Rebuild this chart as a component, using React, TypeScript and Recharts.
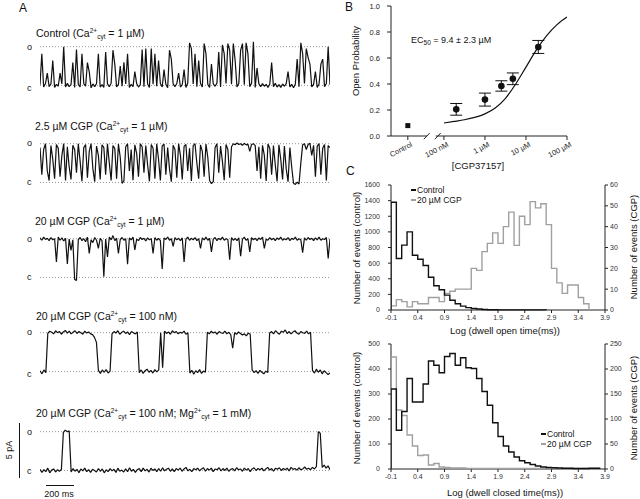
import React from 'react';
import { LineChart, Line, XAxis, YAxis, ReferenceLine, ComposedChart, Scatter, ErrorBar } from 'recharts';

const FONT = 'Arial, "Liberation Sans", sans-serif';
const INK = '#111';
const GREY = '#a0a0a0';

// ---- A: single channel traces, in % of the open level (0 = c, 100 = o)
const traceControl = [
  2, 82, -4, 5, 32, -3, 4, 64, -5, 3, -2, 32, 4, 100, -4, 6, -3, 2, 59, -5,
  93, 3, -4, 82, 5, -2, 59, 35, -6, 4, -3, 5, 82, -4, 2, -5, 86, 4, -3, 6,
  91, 55, -4, 3, 50, -2, 60, 4, 82, -5, 3, -3, 36, 5, -4, 2, 93, -3, 95, 4,
  -5, 95, 3, 82, -2, 64, 5, -4, 41, 3, -6, 91, 68, 4, -3, 5, 32, -4, 2, 41,
  -5, 6, 110, 95, 4, 82, -3, 64, 5, -4, 108, 82, 3, -5, 55, 4, -2, 6, 86, -4,
  105, 82, 5, 108, 91, 3, 108, 64, -4, 5, 91, 108, 2, 110, 82, -3, 6, 113, -5, 45,
  4, -3, 5, -2, 3, -5, 4, 59, -3, 6, -4, 2, -5, 4, -2, 5, 36, -4, 3, -6,
  4, 68, -3, 110, 82, 5, 95, 72, 55, -4, 3, 36, -5, 4, 55, 68, -3, 5, 100, 2,
];
const traceCgp25 = [
  90, 20, 85, 100, 30, 5, 95, 60, 10, 98, 88, 15, 70, 100, 5, 92, 40, 8, 96, 85,
  25, 100, 55, 3, 90, 98, 12, 80, 100, 35, 2, 94, 70, 8, 97, 90, 20, 100, 50, 5,
  95, 88, 10, 99, 65, -2, 4, 92, 100, 30, 85, 6, 97, 75, 15, 100, 92, 25, 95, 45,
  3, 98, 88, 10, 100, 60, 5, 94, 99, 20, 90, 35, 2, 96, 85, 12, 100, 70, 8, 93,
  98, 30, 88, 4, 95, 100, 50, 10, 97, 80, 15, 99, 65, 5, -3, 2, 90, 100, 25, 94,
  55, 6, 98, 85, 12, 92, 100, 97, 102, 98, 100, 96, 101, 97, 99, 80, 98, 100, 95, 30,
  92, 10, 96, 70, 4, 99, 88, 20, 95, 45, 3, 97, 60, 8, 94, 35, 2, 90, 40, -2,
  -5, 1, -4, 50, 97, 100, 85, 98, 101, 70, 96, 15, 94, 100, 20, 88, 98, 5, 95, 90,
];
const traceCgp20 = [
  102, 96, 104, 98, 101, 95, 103, 97, 100, 40, 104, 96, 102, 94, 101, 35, 99, 70, 97, -5,
  -8, 98, 103, 95, 100, 92, 104, 62, 97, 90, 103, 96, 75, 101, 95, 2, 99, 53, 104, 97,
  108, 95, 101, 62, 98, 103, 96, 100, 34, 102, 97, 104, 71, 99, 95, 103, 98, 101, 94, 102,
  97, 100, 62, 103, 96, 101, 95, 22, 102, 98, 104, 96, 100, 80, 103, 97, 101, 95, 102, 40,
  99, 104, 96, 101, 97, 103, 95, 100, 75, 102, 97, 104, 96, 101, 66, 99, 103, 95, 101, 97,
  104, 96, 100, 98, 46, 103, 96, 101, 95, 102, 55, 99, 104, 96, 100, 66, 103, 97, 101, 95,
  102, 98, 104, 75, 99, 96, 103, 97, 101, 95, 102, 98, 104, 96, 100, 97, 103, 95, 101, 98,
  104, 96, 100, 97, 64, 102, 96, 103, 98, 101, 95, 102, 97, 104, 96, 100, 98, 103, 49, 100,
];
const traceLowCa = [
  2, -6, 4, -3, 98, 104, 101, 97, 105, 100, 103, 96, 102, 106, 99, 104, 97, 101, 105, 98,
  103, 100, 96, 104, 99, 102, 97, 95, 88, 75, 3, -5, 4, -2, 5, -4, 1, 97, 103, 99,
  105, 96, 101, 104, 98, 102, 95, 103, 100, 97, 102, -3, 4, -5, 2, 6, -2, 3, -4, 5,
  -1, 4, 100, 10, 104, 98, 102, 96, 105, 100, 103, 97, 101, 99, 104, 96, 100, -4, 3, -7,
  2, -3, 5, -5, 1, -2, 101, 97, 104, 99, 102, 96, 103, 100, 98, 104, 97, 101, 95, 60,
  100, 96, 102, 98, 94, 97, 92, 99, 96, 4, -3, 2, -5, 3, -2, -6, 1, -3, 99, 103,
  97, 105, 100, 96, 104, 101, 107, 98, 103, 97, 102, 105, 99, 96, 103, 100, 98, 104, 97, 101,
  3, -4, 6, -2, 4, -6, 2, -3, -8, -4,
];
const traceMg = [
  3, -5, 2, -3, 6, -6, 1, 4, -4, 2, -2, 3, 98, 104, 100, 102,
  -4, 5, -2, 3, -6, 4, -1, 6, -3, 2, -5, 3, 0, -4, 5, -2, 4, -6, 2, -3,
  5, -1, 3, -5, 6, -2, 1, -4, 4, -3, 7, -2, 3, -5, 2, 5, -3, 6, -1, 3,
  -4, 6, 0, 4, -3, 5, -2, 7, -1, 3, 6, -2, 4, -3, 5, 1, 6, -2, 4, 8,
  -1, 3, -3, 5, 2, 6, -1, 4, 7, -2, 5, 1, 6, -3, 4, 2, 7, -1, 5, 0,
  6, -2, 3, 5, -1, 7, 2, 4, -2, 6, 1, 5, -3, 4, 7, 0, 5, 2, 6, -1,
  4, 8, 1, 5, -2, 6, 3, 7, 0, 5, 2, 6, -1, 8, 3, 5, 1, 7, 2, 4,
  9, 3, 6, 2, 8, 4, 10, 100, 96, 8, 14, 6, 12, 2,
];

// ---- B: open probability vs [CGP37157] (x = log10 of µM)
const concTickPos = [-1.88, -1, 0, 1, 2];
const concTickLabels = ['Control', '100 nM', '1 µM', '10 µM', '100 µM'];
const controlPo = 0.08;
const poLogConc = [-0.7, 0, 0.4, 0.68, 1.3];
const poMean = [0.205, 0.28, 0.385, 0.44, 0.685];
const poSem = [0.045, 0.05, 0.04, 0.045, 0.05];
const fitLogConc = [-1, -0.75, -0.5, -0.25, 0, 0.25, 0.5, 0.75, 1, 1.25, 1.5, 1.75, 2];
const fitPo = [0.1, 0.112, 0.125, 0.143, 0.17, 0.215, 0.29, 0.4, 0.53, 0.66, 0.77, 0.855, 0.915];

// ---- C: dwell time histograms, bins of 0.1 log units starting at -0.1
const binStart = -0.1;
const binWidth = 0.1;
const logTicks = [-0.1, 0.4, 0.9, 1.4, 1.9, 2.4, 2.9, 3.4, 3.9];
const openControl = [1380, 660, 830, 1000, 700, 650, 570, 420, 310, 260, 190, 125, 80, 50, 30, 20, 12, 7, 4, 3, 2, 2, 1, 1, 1, 1, 1, 1, 1];
const openCgp = [2, 5, 4, 1.5, 4, 3, 3, 6, 6, 4, 8, 9, 10, 10, 10, 20, 19, 28, 32, 37, 32, 40, 47, 31, 45, 41, 52, 49, 51, 41, 20, 13, 8, 12, 12, 6, 3];
const closedControl = [320, 155, 230, 362, 268, 268, 340, 432, 415, 385, 450, 462, 415, 445, 405, 402, 362, 310, 255, 185, 130, 92, 68, 48, 33, 25, 18, 12, 8, 6, 5, 4, 3, 3, 2, 2, 2, 3, 3];
const closedCgp = [224, 118, 107, 68, 46, 27, 28, 8, 11, 4, 3, 2, 2, 2, 1, 1, 1, 1, 1, 1, 1, 1, 1, 1, 1, 1, 1, 1, 1, 1, 1, 1, 1, 1, 1, 1, 1, 1, 1];

const steps = (counts: number[]) => {
  const pts = [{ x: binStart, y: 0 }];
  counts.forEach((c, k) => pts.push({ x: +(binStart + k * binWidth).toFixed(2), y: c }));
  pts.push({ x: +(binStart + counts.length * binWidth).toFixed(2), y: 0 });
  return pts;
};

const noShape = () => <g />;
const dot = (p: any) => <circle cx={p.cx} cy={p.cy} r={3.3} fill={INK} />;
const square = (p: any) => <rect x={p.cx - 2.5} y={p.cy - 2.5} width={5} height={5} fill={INK} />;

function Trace({ values, top }: { values: number[]; top: number }) {
  const rows = values.map((v, i) => ({ i, v: v / 100 }));
  return (
    <div style={{ position: 'absolute', left: 40, top, width: 290, height: 64 }}>
      <LineChart width={290} height={64} data={rows} margin={{ top: 0, right: 0, bottom: 0, left: 0 }}>
        <XAxis dataKey="i" type="number" domain={[0, values.length - 1]} hide />
        <YAxis type="number" domain={[-0.4, 1.25]} hide allowDataOverflow />
        <ReferenceLine y={1} stroke="#999" strokeDasharray="1 2" />
        <ReferenceLine y={0} stroke="#999" strokeDasharray="1 2" />
        <Line dataKey="v" type="linear" stroke={INK} strokeWidth={1.2} strokeLinejoin="bevel" dot={false} isAnimationActive={false} />
      </LineChart>
    </div>
  );
}

const ConcTick = (props: any) => {
  const { x, y, payload } = props;
  const label = concTickLabels[concTickPos.indexOf(payload.value)];
  return (
    <text x={x + 5} y={y + 4} transform={`rotate(-28 ${x + 5} ${y + 4})`} textAnchor="end" fontSize={7.5} fill="#222" fontFamily={FONT}>
      {label}
    </text>
  );
};

function Histogram({ top, ctl, cgp, leftMax, rightMax, leftStep, rightStep }: any) {
  const lt = [];
  for (let v = 0; v <= leftMax; v += leftStep) lt.push(v);
  const rt = [];
  for (let v = 0; v <= rightMax; v += rightStep) rt.push(v);
  const tick = { fontSize: 7, fill: '#333', fontFamily: FONT };
  return (
    <div style={{ position: 'absolute', left: 330, top, width: 310, height: 160 }}>
      <ComposedChart width={310} height={160} margin={{ top: 10, right: 0, bottom: 0, left: 0 }}>
        <XAxis type="number" dataKey="x" domain={[-0.1, 3.9]} ticks={logTicks} tickFormatter={(v: number) => v.toFixed(1)}
          height={25} tickSize={3} tickMargin={2} tick={tick} stroke="#222" allowDataOverflow interval={0} />
        <YAxis yAxisId="l" type="number" dataKey="y" domain={[0, leftMax]} ticks={lt} width={61} tickSize={3} tickMargin={8}
          tick={tick} stroke="#222" interval={0} />
        <YAxis yAxisId="r" orientation="right" type="number" dataKey="y" domain={[0, rightMax]} ticks={rt} width={35}
          tickSize={3} tickMargin={2} tick={tick} stroke="#222" interval={0} />
        <Scatter yAxisId="r" data={steps(cgp)} shape={noShape} line={{ stroke: GREY, strokeWidth: 1.4 }} lineJointType="stepAfter" isAnimationActive={false} />
        <Scatter yAxisId="l" data={steps(ctl)} shape={noShape} line={{ stroke: INK, strokeWidth: 1.4 }} lineJointType="stepAfter" isAnimationActive={false} />
      </ComposedChart>
    </div>
  );
}

const ion = (el: string, k: string) => [
  <tspan key={k + 'e'}>{el}</tspan>,
  <tspan key={k + 's'} fontSize={6.5} dy={-4}>2+</tspan>,
  <tspan key={k + 'c'} fontSize={6.5} dy={6}>cyt</tspan>,
];

export default function App() {
  const poRows = poLogConc.map((x, i) => ({ x, y: poMean[i], e: poSem[i] }));
  const fitRows = fitLogConc.map((x, i) => ({ x, y: fitPo[i] }));
  const ctlRow = [{ x: concTickPos[0], y: controlPo }];
  const bTick = { fontSize: 7.5, fill: '#222', fontFamily: FONT };

  return (
    <div style={{ position: 'absolute', left: 0, top: 0, width: 640, height: 499, background: '#fff', fontFamily: FONT }}>
      <Trace values={traceControl} top={37.3} />
      <Trace values={traceCgp25} top={133.6} />
      <Trace values={traceCgp20} top={229.3} />
      <Trace values={traceLowCa} top={323} />
      <Trace values={traceMg} top={422} />

      <div style={{ position: 'absolute', left: 330, top: 0, width: 245, height: 175 }}>
        <ComposedChart width={245} height={175} margin={{ top: 6, right: 8, bottom: 0, left: 0 }}>
          <XAxis type="number" dataKey="x" domain={[-2.29, 2]} ticks={concTickPos} tick={<ConcTick />} axisLine={false}
            tickSize={4} height={39} interval={0} stroke="#222" allowDataOverflow />
          <YAxis type="number" dataKey="y" domain={[0, 1]} ticks={[0, 0.2, 0.4, 0.6, 0.8, 1]} tickFormatter={(v: number) => v.toFixed(1)}
            width={61} tickSize={4} tickMargin={7} tick={bTick} stroke="#222" interval={0} />
          <ReferenceLine segment={[{ x: -2.29, y: 0 }, { x: -1.41, y: 0 }]} stroke="#222" ifOverflow="visible" />
          <ReferenceLine segment={[{ x: -1.2, y: 0 }, { x: 2, y: 0 }]} stroke="#222" ifOverflow="visible" />
          <ReferenceLine segment={[{ x: -1.49, y: -0.025 }, { x: -1.35, y: 0.022 }]} stroke="#222" ifOverflow="visible" />
          <ReferenceLine segment={[{ x: -1.22, y: -0.025 }, { x: -1.08, y: 0.022 }]} stroke="#222" ifOverflow="visible" />
          <Scatter data={fitRows} shape={noShape} line={{ stroke: INK, strokeWidth: 1.2 }} lineJointType="monotoneX" isAnimationActive={false} />
          <Scatter data={ctlRow} shape={square} isAnimationActive={false} />
          <Scatter data={poRows} shape={dot} isAnimationActive={false}>
            <ErrorBar dataKey="e" direction="y" width={6} stroke={INK} strokeWidth={1} />
          </Scatter>
        </ComposedChart>
      </div>

      <Histogram top={175} ctl={openControl} cgp={openCgp} leftMax={1600} leftStep={200} rightMax={60} rightStep={10} />
      <Histogram top={334} ctl={closedControl} cgp={closedCgp} leftMax={500} leftStep={100} rightMax={250} rightStep={50} />

      <svg width={640} height={499} style={{ position: 'absolute', left: 0, top: 0, pointerEvents: 'none' }} fontFamily={FONT} fill={INK}>
        <text x={19} y={12} fontSize={12}>A</text>
        <text x={345} y={11} fontSize={12}>B</text>
        <text x={346} y={175} fontSize={12}>C</text>

        <g fontSize={10.5}>
          <text x={36} y={37}>Control ({ion('Ca', 'a')}<tspan dy={-2}> = 1 µM)</tspan></text>
          <text x={35} y={130}>2.5 µM CGP ({ion('Ca', 'a')}<tspan dy={-2}> = 1 µM)</tspan></text>
          <text x={35} y={225}>20 µM CGP ({ion('Ca', 'a')}<tspan dy={-2}> = 1 µM)</tspan></text>
          <text x={36} y={320}>20 µM CGP ({ion('Ca', 'a')}<tspan dy={-2}> = 100 nM)</tspan></text>
          <text x={36} y={417}>20 µM CGP ({ion('Ca', 'a')}<tspan dy={-2}> = 100 nM; </tspan>{ion('Mg', 'b')}<tspan dy={-2}> = 1 mM)</tspan></text>
        </g>
        <g fontSize={9}>
          <text x={27} y={50}>o</text>
          <text x={27} y={91}>c</text>
          <text x={27} y={146}>o</text>
          <text x={27} y={185}>c</text>
          <text x={27} y={242}>o</text>
          <text x={27} y={280}>c</text>
          <text x={27} y={335}>o</text>
          <text x={27} y={377}>c</text>
          <text x={27} y={435}>o</text>
          <text x={27} y={474}>c</text>
        </g>
        <line x1={19.5} y1={423} x2={19.5} y2={478} stroke={INK} strokeWidth={1} />
        <text transform="translate(12 450) rotate(-90)" textAnchor="middle" fontSize={9}>5 pA</text>
        <line x1={46} y1={485.5} x2={74} y2={485.5} stroke={INK} strokeWidth={1} />
        <text x={59} y={497} textAnchor="middle" fontSize={9}>200 ms</text>

        <text transform="translate(359 61) rotate(-90)" textAnchor="middle" fontSize={9.5}>Open Probability</text>
        <text x={411} y={43} fontSize={9}>EC<tspan fontSize={6.5} dy={2}>50</tspan><tspan dy={-2}> = 9.4 ± 2.3 µM</tspan></text>
        <text x={478} y={169} textAnchor="middle" fontSize={9.5}>[CGP37157]</text>

        <g fontSize={8.5}>
          <line x1={411} y1={190} x2={416} y2={190} stroke={INK} strokeWidth={2} />
          <text x={417} y={193}>Control</text>
          <line x1={411} y1={200} x2={416} y2={200} stroke={GREY} strokeWidth={2} />
          <text x={417} y={203}>20 µM CGP</text>
          <line x1={541} y1={434} x2={546} y2={434} stroke={INK} strokeWidth={2} />
          <text x={547} y={437}>Control</text>
          <line x1={541} y1={444} x2={546} y2={444} stroke={GREY} strokeWidth={2} />
          <text x={547} y={447}>20 µM CGP</text>
        </g>
        <g fontSize={9.5} textAnchor="middle">
          <text transform="translate(360 248) rotate(-90)">Number of events (control)</text>
          <text transform="translate(637 247) rotate(-90)">Number of events (CGP)</text>
          <text x={505} y={334}>Log (dwell open time(ms))</text>
          <text transform="translate(360 408) rotate(-90)">Number of events (control)</text>
          <text transform="translate(637 408) rotate(-90)">Number of events (CGP)</text>
          <text x={505} y={496}>Log (dwell closed time(ms))</text>
        </g>
      </svg>
    </div>
  );
}
